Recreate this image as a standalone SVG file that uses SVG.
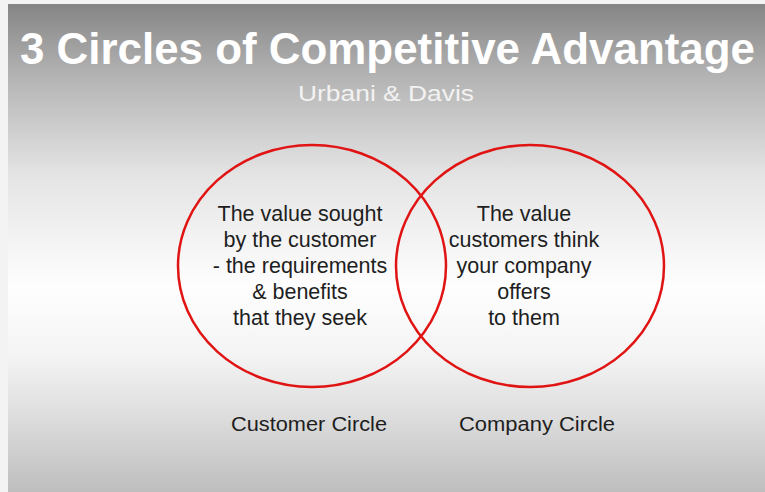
<svg xmlns="http://www.w3.org/2000/svg" width="765" height="492" viewBox="0 0 765 492">
<defs>
<linearGradient id="bg" x1="0" y1="0" x2="0" y2="1">
<stop offset="0" stop-color="#858585"/>
<stop offset="0.15" stop-color="#b4b4b4"/>
<stop offset="0.35" stop-color="#e4e4e4"/>
<stop offset="0.58" stop-color="#fefefe"/>
<stop offset="0.72" stop-color="#f4f4f4"/>
<stop offset="0.85" stop-color="#dcdcdc"/>
<stop offset="1" stop-color="#bebebe"/>
</linearGradient>
</defs>
<style>
.circ{fill:none;stroke:#e11414;stroke-width:2.5}
.body{font-family:"Liberation Sans",Arial,sans-serif;font-size:21.5px;fill:#1e1e1e;text-anchor:middle}
.lab{font-family:"Liberation Sans",Arial,sans-serif;font-size:20px;fill:#1e1e1e}
</style>
<rect x="0" y="0" width="765" height="492" fill="#f3f3f3"/>
<rect x="8" y="4" width="757" height="488" fill="url(#bg)"/>
<g id="title">
<text x="20" y="64" font-family="Liberation Sans,Arial,sans-serif" font-weight="bold" font-size="44" fill="#ffffff" textLength="735" lengthAdjust="spacingAndGlyphs">3 Circles of Competitive Advantage</text>
<text x="298" y="101" font-family="Liberation Sans,Arial,sans-serif" font-size="22" fill="#f2f2f2" textLength="176" lengthAdjust="spacingAndGlyphs">Urbani &amp; Davis</text>
</g>
<g id="customer-circle">
<ellipse class="circ" cx="312" cy="266" rx="134" ry="121"/>
<text class="body" x="300" y="221">The value sought</text>
<text class="body" x="300" y="247">by the customer</text>
<text class="body" x="300" y="273">- the requirements</text>
<text class="body" x="300" y="299">&amp; benefits</text>
<text class="body" x="300" y="325">that they seek</text>
<text class="lab" x="231" y="431" textLength="156" lengthAdjust="spacingAndGlyphs">Customer Circle</text>
</g>
<g id="company-circle">
<ellipse class="circ" cx="530" cy="266" rx="134" ry="121"/>
<text class="body" x="524" y="221">The value</text>
<text class="body" x="524" y="247">customers think</text>
<text class="body" x="524" y="273">your company</text>
<text class="body" x="524" y="299">offers</text>
<text class="body" x="524" y="325">to them</text>
<text class="lab" x="459" y="431" textLength="156" lengthAdjust="spacingAndGlyphs">Company Circle</text>
</g>
<g id="connectors"/>
</svg>
